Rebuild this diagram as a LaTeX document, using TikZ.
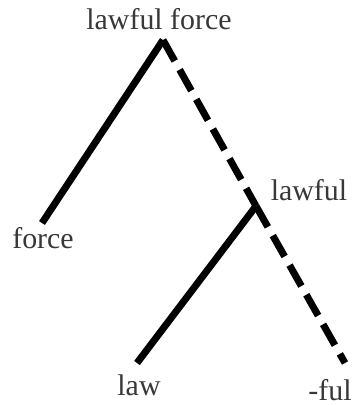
\documentclass[tikz,border=0pt]{standalone}
\usepackage{fontspec}
\setmainfont{Liberation Serif}
\begin{document}
\begin{tikzpicture}[x=1bp,y=-1bp,
  lbl/.style={inner sep=0pt,anchor=base,font=\fontsize{30}{30}\selectfont,text=black!78},
  branch/.style={line width=7bp,black},
  dbranch/.style={branch,dash pattern=on 24bp off 10bp}]
\useasboundingbox[fill=white] (0,0) rectangle (356,405);
\node[lbl] (root) at (159,29) {lawful force};
\node[lbl] (force) at (43,248) {force};
\node[lbl] (lawful) at (309,200) {lawful};
\node[lbl] (law) at (139,395) {law};
\node[lbl] (ful) at (330,400) {-ful};
\coordinate (top) at (163,40);
\coordinate (mid) at (256,206);
\coordinate (fend) at (42,223);
\coordinate (lawend) at (137,363);
\coordinate (fulend) at (345,363);
\draw[branch] (fend) -- (top);
\draw[dbranch] (top) -- (mid);
\draw[branch] (lawend) -- (mid);
\draw[dbranch] (mid) -- (fulend);
\end{tikzpicture}
\end{document}
